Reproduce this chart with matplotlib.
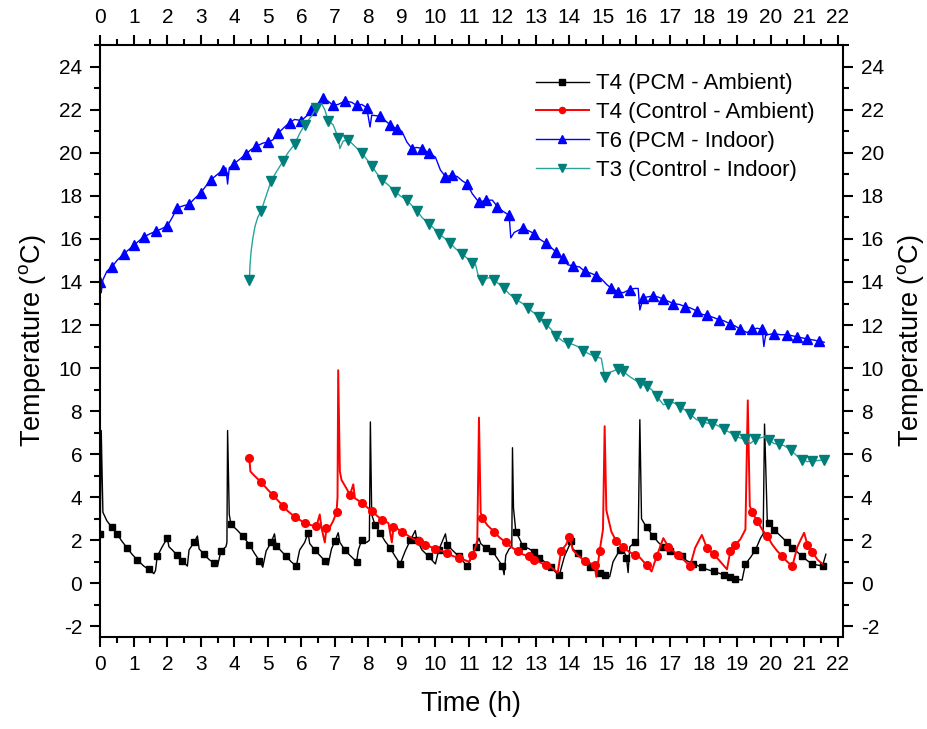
import numpy as np
import matplotlib
matplotlib.use("Agg")
from matplotlib import pyplot as plt
from matplotlib.ticker import MultipleLocator

plt.rcParams['font.family'] = ['Liberation Sans', 'DejaVu Sans']
plt.rcParams['mathtext.fontset'] = 'custom'
plt.rcParams['mathtext.rm'] = 'Liberation Sans'
plt.rcParams['axes.unicode_minus'] = False

# T4 (PCM - Ambient)
t_pcm_amb = [0.0, 0.03, 0.08, 0.2, 0.35, 0.5, 0.65, 0.8, 0.95, 1.1, 1.3, 1.45, 1.6, 1.65, 1.7, 1.85,
             2.0, 2.05, 2.15, 2.3, 2.45, 2.6, 2.65, 2.8, 2.9, 2.95, 3.1, 3.25, 3.4, 3.5, 3.6, 3.75,
             3.78, 3.8, 3.85, 3.9, 4.1, 4.25, 4.45, 4.6, 4.75, 4.85, 4.95, 5.1, 5.2, 5.25, 5.4, 5.55,
             5.7, 5.85, 5.95, 6.1, 6.2, 6.25, 6.4, 6.55, 6.7, 6.8, 6.9, 7.0, 7.1, 7.15, 7.3, 7.45,
             7.65, 7.7, 7.8, 7.95, 8.03, 8.06, 8.1, 8.2, 8.35, 8.5, 8.65, 8.8, 8.95, 9.1, 9.25, 9.4,
             9.45, 9.6, 9.8, 10.0, 10.1, 10.3, 10.35, 10.5, 10.7, 10.95, 11.1, 11.2, 11.3, 11.35, 11.5,
             11.7, 11.85, 12.0, 12.05, 12.1, 12.2, 12.28, 12.3, 12.33, 12.4, 12.5, 12.6, 12.8, 12.95,
             13.1, 13.3, 13.45, 13.6, 13.7, 13.85, 13.95, 14.05, 14.1, 14.25, 14.45, 14.6, 14.75, 14.9,
             15.05, 15.2, 15.3, 15.5, 15.6, 15.7, 15.75, 15.8, 15.95, 16.05, 16.1, 16.15, 16.3, 16.5,
             16.65, 16.8, 17.0, 17.2, 17.35, 17.5, 17.7, 17.95, 18.1, 18.3, 18.6, 18.8, 18.95, 19.15,
             19.25, 19.4, 19.55, 19.7, 19.78, 19.82, 19.9, 19.95, 20.1, 20.3, 20.5, 20.65, 20.8, 20.95,
             21.1, 21.25, 21.4, 21.55, 21.65]
T_pcm_amb = [2.3, 7.1, 3.3, 2.9, 2.6, 2.3, 1.95, 1.65, 1.35, 1.1, 0.8, 0.65, 0.45, 0.6, 1.25, 1.7,
             2.1, 1.7, 1.55, 1.3, 1.05, 0.8, 1.55, 1.9, 2.2, 1.6, 1.35, 1.1, 0.95, 0.8, 1.5, 1.7,
             1.9, 7.1, 3.2, 2.75, 2.45, 2.2, 1.8, 1.4, 1.05, 0.75, 1.5, 1.9, 2.3, 1.75, 1.5, 1.25,
             1.0, 0.8, 1.55, 1.9, 2.35, 1.85, 1.55, 1.3, 1.05, 0.85, 1.6, 1.95, 2.35, 1.9, 1.55, 1.3,
             1.0, 1.55, 2.0, 1.9, 2.0, 7.5, 3.2, 2.7, 2.35, 1.95, 1.65, 1.25, 0.9, 1.5, 2.0, 2.45,
             2.0, 1.55, 1.25, 0.9, 1.55, 2.3, 1.8, 1.55, 1.25, 0.8, 1.25, 1.7, 2.1, 1.85, 1.65,
             1.5, 1.15, 0.8, 0.4, 1.3, 1.6, 1.7, 6.3, 3.5, 2.4, 2.1, 1.75, 1.6, 1.45,
             1.2, 0.95, 0.75, 0.5, 0.4, 1.25, 1.6, 1.95, 1.6, 1.4, 1.0, 0.75, 0.6, 0.5,
             0.4, 0.3, 1.0, 1.55, 1.6, 1.2, 0.5, 1.7, 1.9, 2.0, 7.6, 3.0, 2.6, 2.2,
             1.9, 1.7, 1.5, 1.35, 1.25, 1.05, 0.9, 0.75, 0.65, 0.55, 0.4, 0.3, 0.2, 0.15,
             0.9, 1.2, 1.55, 2.1, 2.3, 7.4, 3.0, 2.8, 2.5, 2.2, 1.9, 1.65, 1.45, 1.25,
             1.05, 0.9, 0.85, 0.8, 1.35]

# T4 (Control - Ambient)
t_ctl_amb = [4.45, 4.48, 4.6, 4.8, 5.0, 5.15, 5.3, 5.45, 5.6, 5.8, 5.95, 6.1, 6.3, 6.45, 6.55, 6.6,
             6.7, 6.75, 6.85, 6.95, 7.05, 7.08, 7.1, 7.15, 7.2, 7.35, 7.45, 7.55, 7.6, 7.8, 7.95, 8.1,
             8.25, 8.4, 8.6, 8.7, 8.75, 8.8, 9.0, 9.15, 9.3, 9.5, 9.7, 9.85, 10.0, 10.2, 10.35, 10.55,
             10.7, 10.85, 11.0, 11.1, 11.2, 11.25, 11.3, 11.35, 11.4, 11.55, 11.75, 11.9, 12.1, 12.25,
             12.45, 12.6, 12.8, 12.95, 13.15, 13.3, 13.45, 13.65, 13.75, 13.9, 14.0, 14.1, 14.25, 14.45,
             14.6, 14.75, 14.8, 14.9, 15.0, 15.05, 15.1, 15.25, 15.4, 15.6, 15.75, 15.95, 16.1, 16.3,
             16.45, 16.6, 16.8, 16.95, 17.1, 17.25, 17.4, 17.6, 17.75, 17.95, 18.1, 18.3, 18.45, 18.7,
             18.8, 18.95, 19.1, 19.25, 19.32, 19.38, 19.45, 19.6, 19.75, 19.9, 20.05, 20.2, 20.35, 20.5,
             20.65, 20.8, 21.0, 21.1, 21.25, 21.4, 21.55]
T_ctl_amb = [5.8, 5.2, 5.0, 4.7, 4.35, 4.1, 3.85, 3.6, 3.35, 3.1, 2.95, 2.8, 2.7, 2.65, 3.2, 2.6,
             1.9, 2.55, 2.6, 2.9, 3.3, 4.0, 9.9, 5.2, 4.8, 4.4, 4.1, 4.6, 3.95, 3.75, 3.55, 3.35,
             3.15, 2.95, 2.8, 1.9, 2.6, 2.6, 2.4, 2.25, 2.1, 1.95, 1.8, 1.7, 1.6, 1.5, 1.4, 1.25,
             1.2, 1.1, 1.0, 1.3, 1.7, 2.0, 7.7, 3.3, 3.05, 2.7, 2.4, 2.15, 1.9, 1.7,
             1.5, 1.35, 1.25, 1.1, 0.95, 0.85, 0.75, 0.5, 1.5, 1.8, 2.15, 1.55, 1.3, 1.05,
             0.95, 0.85, 0.3, 1.5, 2.5, 7.3, 3.4, 2.4, 1.95, 1.7, 1.5, 1.3, 1.2, 0.85,
             0.55, 1.25, 2.1, 1.7, 1.5, 1.3, 1.1, 0.8, 1.65, 2.25, 1.65, 1.35, 1.1, 0.65,
             1.5, 1.8, 2.05, 2.5, 8.5, 3.6, 3.3, 2.9, 2.5, 2.2, 1.8, 1.5, 1.25, 1.0,
             0.8, 1.7, 2.35, 1.8, 1.45, 1.1, 0.9]

# T6 (PCM - Indoor)
t_pcm_in = [0.0, 0.03, 0.08, 0.2, 0.35, 0.5, 0.7, 0.85, 1.0, 1.15, 1.3, 1.5, 1.65, 1.8, 2.0, 2.15,
            2.3, 2.5, 2.65, 2.8, 3.0, 3.15, 3.3, 3.5, 3.65, 3.75, 3.8, 3.85, 4.0, 4.2, 4.35, 4.5,
            4.65, 4.85, 5.0, 5.15, 5.3, 5.5, 5.65, 5.8, 6.0, 6.15, 6.3, 6.5, 6.65, 6.8, 6.95, 7.1,
            7.3, 7.5, 7.65, 7.8, 7.95, 8.05, 8.1, 8.35, 8.5, 8.65, 8.85, 9.0, 9.15, 9.3, 9.45, 9.6,
            9.8, 10.0, 10.15, 10.3, 10.5, 10.65, 10.8, 10.95, 11.1, 11.3, 11.5, 11.7, 11.85, 12.0,
            12.2, 12.25, 12.35, 12.6, 12.75, 12.95, 13.1, 13.3, 13.45, 13.6, 13.8, 13.95, 14.1, 14.3,
            14.45, 14.65, 14.8, 14.95, 15.1, 15.25, 15.45, 15.6, 15.8, 15.95, 16.05, 16.1, 16.2, 16.3,
            16.5, 16.65, 16.8, 16.95, 17.1, 17.3, 17.45, 17.6, 17.8, 17.95, 18.1, 18.3, 18.45, 18.6,
            18.8, 18.95, 19.1, 19.3, 19.45, 19.6, 19.75, 19.8, 19.85, 19.9, 20.1, 20.3, 20.5, 20.65,
            20.8, 20.95, 21.1, 21.3, 21.45, 21.6]
T_pcm_in = [14.0, 13.5, 14.1, 14.5, 14.7, 15.0, 15.3, 15.5, 15.7, 15.9, 16.1, 16.25, 16.35, 16.45, 16.6, 17.0,
            17.45, 17.55, 17.6, 17.85, 18.15, 18.45, 18.75, 19.0, 19.2, 19.3, 18.55, 19.3, 19.5, 19.75, 19.95, 20.15,
            20.3, 20.45, 20.5, 20.6, 20.9, 21.2, 21.4, 21.55, 21.5, 21.7, 22.0, 22.3, 22.55, 22.4, 22.2, 22.25,
            22.4, 22.35, 22.2, 22.25, 22.1, 21.2, 21.75, 21.7, 21.5, 21.3, 21.1, 21.0, 20.5, 20.2, 20.25, 20.2,
            20.0, 19.8, 19.2, 18.9, 18.95, 18.9, 18.7, 18.55, 18.1, 17.7, 17.8, 17.8, 17.5, 17.3,
            17.1, 16.05, 16.3, 16.5, 16.4, 16.25, 16.0, 15.8, 15.6, 15.4, 15.1, 14.8, 14.75, 14.7,
            14.5, 14.4, 14.3, 14.15, 13.9, 13.7, 13.55, 13.5, 13.65, 13.7, 13.7, 12.7, 13.25, 13.3,
            13.35, 13.3, 13.2, 13.1, 13.0, 12.95, 12.85, 12.8, 12.65, 12.5, 12.45, 12.35, 12.25, 12.2,
            12.05, 11.95, 11.8, 11.65, 11.8, 11.85, 11.8, 11.0, 11.5, 11.55, 11.6, 11.55, 11.55, 11.5,
            11.45, 11.4, 11.35, 11.3, 11.25, 11.2]

# T3 (Control - Indoor)
t_ctl_in = [4.45, 4.47, 4.5, 4.55, 4.62, 4.7, 4.8, 4.95, 5.1, 5.25, 5.45, 5.6, 5.8, 5.95, 6.1, 6.3,
            6.45, 6.6, 6.7, 6.8, 6.95, 7.1, 7.15, 7.25, 7.4, 7.6, 7.8, 7.95, 8.1, 8.25, 8.4, 8.6,
            8.8, 8.95, 9.15, 9.3, 9.45, 9.6, 9.8, 9.95, 10.1, 10.3, 10.45, 10.6, 10.8, 10.95, 11.1, 11.2,
            11.3, 11.4, 11.6, 11.75, 11.9, 12.05, 12.2, 12.4, 12.6, 12.75, 12.95, 13.1, 13.3, 13.45,
            13.6, 13.8, 13.95, 14.1, 14.25, 14.4, 14.6, 14.75, 14.95, 15.05, 15.2, 15.45, 15.6, 15.8,
            16.1, 16.3, 16.45, 16.6, 16.8, 16.95, 17.1, 17.3, 17.45, 17.6, 17.8, 17.95, 18.1, 18.25,
            18.4, 18.6, 18.8, 18.95, 19.1, 19.25, 19.4, 19.55, 19.8, 19.95, 20.1, 20.25, 20.4, 20.6,
            20.8, 20.95, 21.1, 21.25, 21.4, 21.6]
T_ctl_in = [14.1, 14.8, 15.4, 16.0, 16.6, 17.0, 17.3, 18.0, 18.7, 19.1, 19.6, 20.0, 20.4, 20.9, 21.3, 21.7,
            22.1, 22.3, 22.0, 21.5, 21.3, 20.7, 20.2, 20.55, 20.6, 20.3, 20.0, 19.7, 19.4, 19.05, 18.75, 18.5,
            18.2, 18.0, 17.8, 17.55, 17.3, 17.0, 16.7, 16.5, 16.25, 16.0, 15.8, 15.55, 15.3, 15.1, 14.9, 14.8,
            14.15, 14.1, 14.2, 14.1, 13.9, 13.7, 13.45, 13.2, 13.0, 12.8, 12.55, 12.35, 12.05, 11.8,
            11.5, 11.25, 11.15, 11.1, 11.0, 10.8, 10.65, 10.55, 10.45, 9.6, 9.8, 9.95, 9.85, 9.6,
            9.3, 9.15, 9.0, 8.7, 8.3, 8.35, 8.4, 8.2, 8.05, 7.85, 7.6, 7.5, 7.45, 7.4,
            7.35, 7.15, 7.0, 6.85, 6.75, 6.7, 6.5, 6.7, 6.8, 6.65, 6.5, 6.45, 6.4, 6.2,
            5.9, 5.75, 5.65, 5.7, 5.7, 5.75]


def marker_idx(t, T, step):
    # markers on the recorded point nearest a regular time grid, ignoring spikes/dips
    t = np.asarray(t)
    T = np.asarray(T)
    dev = np.zeros(len(T))
    dev[1:-1] = np.abs(T[1:-1] - (T[:-2] + T[2:]) / 2)
    ok = np.where(dev < 0.6)[0]
    idx = [int(ok[np.argmin(np.abs(t[ok] - g))]) for g in np.arange(t[0], t[-1] + 0.01, step)]
    return sorted(set(idx))


fig = plt.figure(figsize=(9.28, 7.29), dpi=100)
ax = fig.add_axes([0.108, 0.126, 0.8, 0.812])

ax.plot(t_pcm_amb, T_pcm_amb, color='black', lw=1.0, marker='s', ms=4.8,
        markevery=marker_idx(t_pcm_amb, T_pcm_amb, 0.28), label='T4 (PCM - Ambient)')
ax.plot(t_ctl_amb, T_ctl_amb, color='red', lw=1.4, marker='o', ms=5.5,
        markevery=marker_idx(t_ctl_amb, T_ctl_amb, 0.33), label='T4 (Control - Ambient)')
ax.plot(t_pcm_in, T_pcm_in, color='blue', lw=1.0, marker='^', ms=7,
        markevery=marker_idx(t_pcm_in, T_pcm_in, 0.33), label='T6 (PCM - Indoor)')
ax.plot(t_ctl_in, T_ctl_in, color='#2aa39a', lw=1.0, marker='v', ms=7, mfc='#007f7a', mec='#007f7a',
        markevery=marker_idx(t_ctl_in, T_ctl_in, 0.33), label='T3 (Control - Indoor)')

ax.set_xlim(0, 22.15)
ax.set_ylim(-2.5, 25)

fs = 15
ax.xaxis.set_major_locator(MultipleLocator(1))
ax.xaxis.set_minor_locator(MultipleLocator(0.5))
ax.yaxis.set_major_locator(MultipleLocator(2))
ax.yaxis.set_minor_locator(MultipleLocator(1))
ax.tick_params(which='both', direction='out', width=1.5, labelsize=fs,
               top=True, right=True, labeltop=True, labelright=True)
ax.tick_params(which='major', length=7, pad=6)
ax.tick_params(which='minor', length=4)
for s in ax.spines.values():
    s.set_linewidth(1.5)

ax.set_xlabel('Time (h)', fontsize=19.5, labelpad=12)
ax.set_ylabel(r'Temperature ($^{\mathrm{o}}$C)', fontsize=19.5, labelpad=8)
ax2 = ax.secondary_yaxis('right')
ax2.yaxis.set_major_locator(MultipleLocator(2))
ax2.tick_params(length=0, labelright=False)
ax2.spines['right'].set_visible(False)
ax2.set_ylabel(r'Temperature ($^{\mathrm{o}}$C)', fontsize=19.5, labelpad=38)

ax.legend(loc='upper right', bbox_to_anchor=(0.98, 0.975), frameon=False, fontsize=16,
          handlelength=2.4, handletextpad=0.3, labelspacing=0.35, borderaxespad=0.2,
          markerscale=0.8)

fig.savefig('out.png', dpi=100)
